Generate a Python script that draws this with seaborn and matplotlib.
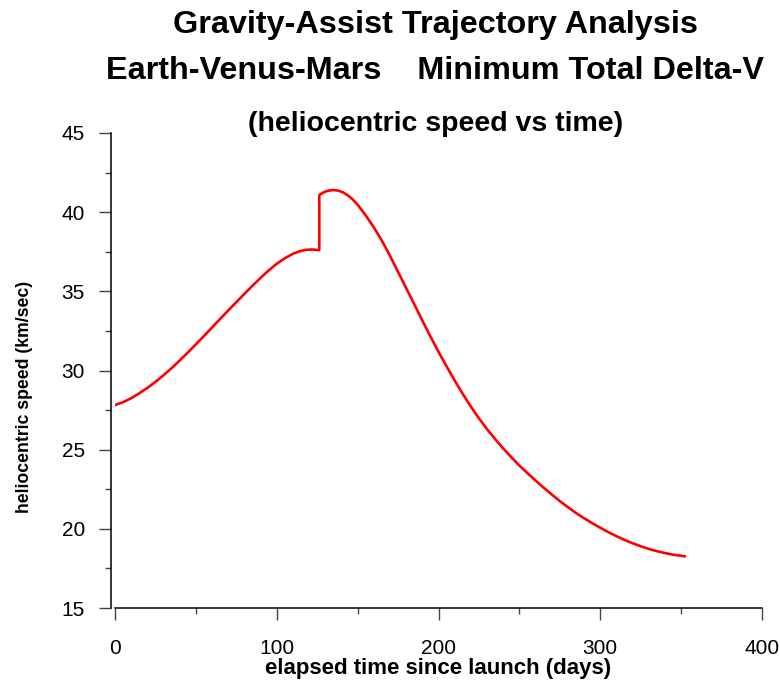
import matplotlib
matplotlib.use("Agg")
import matplotlib.pyplot as plt
import seaborn as sns
import pandas as pd
from matplotlib.ticker import MultipleLocator

# ---- data ----
t_before = [0, 5, 10, 15, 20, 25, 30, 35, 40, 45, 50, 55, 60, 65, 70, 75, 80,
            85, 90, 95, 100, 105, 110, 114, 118, 122, 126.3]
v_before = [27.82, 28.0, 28.25, 28.56, 28.9, 29.28, 29.7, 30.15, 30.63, 31.13,
            31.65, 32.18, 32.72, 33.26, 33.79, 34.32, 34.84, 35.36, 35.85,
            36.32, 36.74, 37.09, 37.37, 37.53, 37.62, 37.64, 37.6]
t_after = [126.3, 128, 130, 132, 135, 138, 141, 144, 147, 150, 155, 160, 165,
           170, 175, 180, 185, 190, 195, 200, 205, 210, 215, 220, 225, 230,
           235, 240, 245, 250, 255, 260, 265, 270, 275, 280, 285, 290, 295,
           300, 305, 310, 315, 320, 325, 330, 335, 340, 345, 350, 352.4]
v_after = [41.08, 41.19, 41.3, 41.36, 41.4, 41.36, 41.25, 41.06, 40.8, 40.47,
           39.8, 39.05, 38.2, 37.25, 36.23, 35.21, 34.19, 33.16, 32.15, 31.18,
           30.26, 29.37, 28.52, 27.72, 26.98, 26.3, 25.67, 25.08, 24.53, 24.0,
           23.52, 23.05, 22.6, 22.17, 21.75, 21.37, 21.0, 20.67, 20.36, 20.07,
           19.79, 19.54, 19.3, 19.09, 18.9, 18.73, 18.59, 18.47, 18.37, 18.3,
           18.26]

title1 = "Gravity-Assist Trajectory Analysis"
title2 = "Earth-Venus-Mars    Minimum Total Delta-V"
title3 = "(heliocentric speed vs time)"
xlabel = "elapsed time since launch (days)"
ylabel = "heliocentric speed (km/sec)"
x_ticks = [0, 100, 200, 300, 400]
y_ticks = [15, 20, 25, 30, 35, 40, 45]

df = pd.DataFrame({"t": t_before + t_after, "v": v_before + v_after})

sns.set_theme(style="ticks")
plt.rcParams["font.family"] = ["Liberation Sans", "DejaVu Sans"]
plt.rcParams["text.color"] = "black"
plt.rcParams["axes.labelcolor"] = "black"
plt.rcParams["xtick.labelcolor"] = "black"
plt.rcParams["ytick.labelcolor"] = "black"

fig = plt.figure(figsize=(7.8, 6.83), dpi=100)
ax = fig.add_axes([115 / 780, 1 - 608 / 683, (762 - 115) / 780, (608 - 133) / 683])

sns.lineplot(data=df, x="t", y="v", ax=ax, color="#ff0000", linewidth=1.9,
             sort=False, estimator=None)

ax.set_xlim(0, 400)
ax.set_ylim(15, 45)
ax.set_xticks(x_ticks)
ax.set_yticks(y_ticks)
ax.xaxis.set_minor_locator(MultipleLocator(50))
ax.yaxis.set_minor_locator(MultipleLocator(2.5))

ax.tick_params(axis="both", which="major", length=8.6, width=1.0, color="#444444",
               labelsize=15, labelcolor="black", direction="out")
ax.tick_params(axis="both", which="minor", length=4.3, width=1.0, color="#444444",
               direction="out")
ax.tick_params(axis="x", which="major", pad=13.5)
ax.tick_params(axis="y", which="major", pad=10)

for s in ["top", "right"]:
    ax.spines[s].set_visible(False)
ax.spines["left"].set_position(("outward", 3))
for s in ["left", "bottom"]:
    ax.spines[s].set_linewidth(1.1)
    ax.spines[s].set_color("black")

ax.set_xlabel(xlabel, fontsize=16, fontweight="bold", labelpad=0)
ax.set_ylabel(ylabel, fontsize=12.7, fontweight="bold")
ax.yaxis.set_label_coords(-0.127, 0.444)

fig.text(0.558, 1 - 25 / 683, title1, ha="center", va="center",
         fontsize=23.3, fontweight="bold")
fig.text(0.558, 1 - 71 / 683, title2, ha="center", va="center",
         fontsize=23.3, fontweight="bold")
fig.text(0.558, 1 - 124 / 683, title3, ha="center", va="center",
         fontsize=20.5, fontweight="bold")

fig.savefig("out.png", dpi=100)
